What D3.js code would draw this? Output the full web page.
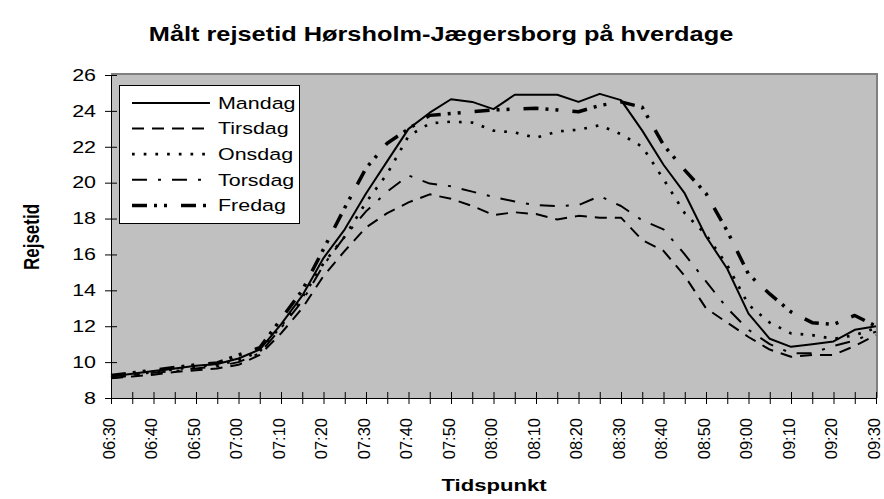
<!DOCTYPE html>
<html>
<head>
<meta charset="utf-8">
<script src="https://cdn.jsdelivr.net/npm/d3@7"></script>
<style>
  body { margin: 0; background: #fff; }
  svg { display: block; font-family: Arial, "Liberation Sans", sans-serif; }
</style>
</head>
<body>
<svg id="chart" width="884" height="499"></svg>
<script>
// ── DATA ────────────────────────────────────────────────────────────────
const times = ['06:30','06:35','06:40','06:45','06:50','06:55','07:00','07:05','07:10','07:15',
  '07:20','07:25','07:30','07:35','07:40','07:45','07:50','07:55','08:00','08:05',
  '08:10','08:15','08:20','08:25','08:30','08:35','08:40','08:45','08:50','08:55',
  '09:00','09:05','09:10','09:15','09:20','09:25','09:30'];

const mandag  = [9.2,9.35,9.5,9.65,9.8,9.9,10.2,10.7,12.1,13.7,15.8,17.4,19.4,21.2,23.0,23.9,24.65,24.5,24.1,24.9,
  24.9,24.9,24.5,24.95,24.6,22.9,21.0,19.4,17.0,15.2,12.7,11.3,10.85,11.0,11.15,11.8,12.0];
const tirsdag = [9.1,9.2,9.3,9.45,9.55,9.65,9.85,10.4,11.6,13.0,14.8,16.2,17.5,18.3,18.9,19.35,19.1,18.7,18.2,18.35,
  18.25,17.95,18.15,18.05,18.05,16.8,16.2,14.8,13.0,12.2,11.4,10.7,10.3,10.4,10.4,10.9,11.5];
const onsdag  = [9.15,9.3,9.45,9.6,9.75,9.85,10.1,10.6,12.0,13.6,15.5,17.0,18.9,20.5,22.6,23.3,23.4,23.35,22.9,22.8,
  22.5,22.85,22.95,23.2,22.7,22.0,20.2,18.3,17.1,15.4,13.2,12.2,11.6,11.5,11.3,11.5,11.9];
const torsdag = [9.1,9.25,9.4,9.5,9.65,9.75,10.0,10.5,11.9,13.4,15.4,17.0,18.4,19.5,20.4,19.95,19.8,19.5,19.2,18.95,
  18.75,18.7,18.75,19.25,18.7,17.9,17.4,16.0,14.5,13.0,11.8,11.0,10.5,10.5,10.9,11.2,11.7];
const fredag  = [9.25,9.4,9.55,9.7,9.85,9.95,10.4,10.8,12.4,14.0,16.3,18.6,20.8,22.2,23.0,23.75,23.85,23.95,24.05,24.1,
  24.15,24.05,23.95,24.3,24.5,24.2,22.1,20.7,19.4,17.3,14.9,13.8,12.8,12.2,12.1,12.6,12.0];

const yTicks = [8,10,12,14,16,18,20,22,24,26];
const xLabels = times.filter((t, i) => i % 2 === 0);

const series = [
  { label: 'Mandag',  values: mandag,  width: 2,   dash: null },
  { label: 'Tirsdag', values: tirsdag, width: 2,   dash: '12,8' },
  { label: 'Onsdag',  values: onsdag,  width: 2.7, dash: '2.7,9' },
  { label: 'Torsdag', values: torsdag, width: 2,   dash: '15,11,3,11' },
  { label: 'Fredag',  values: fredag,  width: 3.5, dash: '15,7,3,7,3,14' },
];

// ── CHART SETUP ────────────────────────────────────────────────────────
const svg = d3.select('#chart');
const SX = 1.3;              // the original is stretched horizontally
const plot = { left: 111, right: 876, top: 75, bottom: 398 };

const x = d3.scalePoint().domain(times).range([plot.left, plot.right]);
const y = d3.scaleLinear().domain([8, 26]).range([plot.bottom, plot.top]);

// plot background + grey frame (top/right)
svg.append('rect')
  .attr('x', plot.left).attr('y', plot.top)
  .attr('width', plot.right - plot.left).attr('height', plot.bottom - plot.top)
  .attr('fill', '#c0c0c0');
svg.append('path')
  .attr('d', `M${plot.left},${plot.top - 1}H${plot.right + 1}V${plot.bottom}`)
  .attr('fill', 'none').attr('stroke', '#808080').attr('stroke-width', 2);

// axes, cross tick marks
const yAxis = svg.append('g')
  .attr('transform', `translate(${plot.left},0)`)
  .call(d3.axisLeft(y).tickValues(yTicks).tickSizeInner(6).tickSizeOuter(0).tickFormat(''));
yAxis.selectAll('.tick line').attr('x2', 6).attr('x1', -6).attr('stroke', '#000');
yAxis.select('.domain').attr('stroke', '#000');

const xAxis = svg.append('g')
  .attr('transform', `translate(0,${plot.bottom})`)
  .call(d3.axisBottom(x).tickSizeInner(6).tickSizeOuter(0).tickFormat(''));
xAxis.selectAll('.tick line').attr('y1', -6).attr('y2', 6).attr('stroke', '#000');
xAxis.select('.domain').attr('stroke', '#000');

// tick labels
svg.append('g').selectAll('text')
  .data(yTicks).join('text')
  .attr('transform', d => `translate(96,${y(d)}) scale(${SX},1)`)
  .attr('dy', '0.35em').attr('text-anchor', 'end')
  .attr('font-size', 16.5).attr('fill', '#000')
  .text(d => d);

svg.append('g').selectAll('text')
  .data(xLabels).join('text')
  .attr('transform', d => `translate(${x(d)},418) rotate(-90)`)
  .attr('dy', '0.22em').attr('text-anchor', 'end')
  .attr('font-size', 16.5).attr('fill', '#000')
  .text(d => d);

// titles
svg.append('text')
  .attr('transform', `translate(441,41) scale(${SX},1)`)
  .attr('text-anchor', 'middle').attr('font-size', 19.5).attr('font-weight', 'bold')
  .text('Målt rejsetid Hørsholm-Jægersborg på hverdage');

svg.append('text')
  .attr('transform', `translate(494,491) scale(${SX},1)`)
  .attr('text-anchor', 'middle').attr('font-size', 17).attr('font-weight', 'bold')
  .text('Tidspunkt');

svg.append('text')
  .attr('transform', `translate(39,237) scale(${SX},1) rotate(-90)`)
  .attr('text-anchor', 'middle').attr('font-size', 17).attr('font-weight', 'bold')
  .text('Rejsetid');

// series lines
const line = d3.line()
  .x((d, i) => x(times[i]))
  .y(d => y(d));

series.forEach(s => {
  svg.append('path')
    .attr('d', line(s.values))
    .attr('fill', 'none')
    .attr('stroke', '#000')
    .attr('stroke-width', s.width)
    .attr('stroke-dasharray', s.dash)
    .attr('stroke-linejoin', 'round');
});

// legend
const legend = svg.append('g');
legend.append('rect')
  .attr('x', 119.5).attr('y', 85.5).attr('width', 180).attr('height', 138)
  .attr('fill', '#fff').attr('stroke', '#000').attr('stroke-width', 1);

series.forEach((s, i) => {
  const ly = 103 + i * 25.6;
  legend.append('line')
    .attr('x1', 132).attr('x2', 210).attr('y1', ly).attr('y2', ly)
    .attr('stroke', '#000').attr('stroke-width', s.width)
    .attr('stroke-dasharray', s.dash);
  legend.append('text')
    .attr('transform', `translate(218,${ly}) scale(${SX},1)`)
    .attr('dy', '0.35em').attr('font-size', 16.5)
    .text(s.label);
});
</script>
</body>
</html>
